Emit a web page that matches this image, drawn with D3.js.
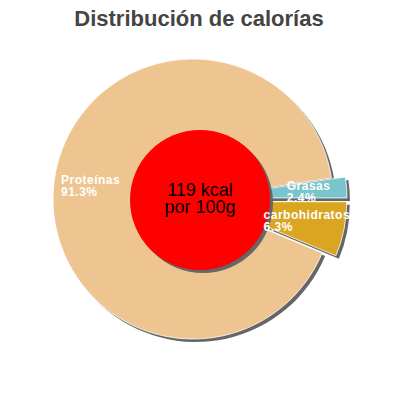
<!DOCTYPE html>
<html>
<head>
<meta charset="utf-8">
<script src="https://cdn.jsdelivr.net/npm/d3@7"></script>
<style>
  body { margin: 0; background: #fff; }
  svg { display: block; font-family: "Liberation Sans", Arial, sans-serif; }
</style>
</head>
<body>
<svg id="chart" width="400" height="400"></svg>
<script>
// data, in the order the slices run clockwise from the right side
var categories = ["Grasas", "carbohidratos", "Proteínas"];
var percents = [2.4, 6.3, 91.3];
var percentLabels = ["2.4%", "6.3%", "91.3%"];
var centerLines = ["119 kcal", "por 100g"];
var title = "Distribución de calorías";

// styles
var colors = ["#7ac5cd", "#daa520", "#eec591"];
var explode = [14, 14, 0];
var labelRadius = [80, 58, 133];
var labelDy = [-2, 6, 1];

var svg = d3.select("#chart");
var cx = 193, cy = 199, r = 140;

svg.append("text")
    .attr("x", 199).attr("y", 26)
    .attr("text-anchor", "middle")
    .style("font-size", "22px").style("font-weight", "bold")
    .style("fill", "#444")
    .text(title);

// start so that the first slice ends exactly at 3 o'clock
var total = d3.sum(percents);
var start = Math.PI / 2 - 2 * Math.PI * percents[0] / total;
var pie = d3.pie().sort(null).startAngle(start).endAngle(start + 2 * Math.PI);
var arcs = pie(percents);
var arc = d3.arc().innerRadius(0).outerRadius(r);

function shift(d, i) {
    var a = (d.startAngle + d.endAngle) / 2;
    return [Math.sin(a) * explode[i], -Math.cos(a) * explode[i]];
}

var g = svg.append("g").attr("transform", "translate(" + cx + "," + cy + ")");

// shadows first
g.selectAll("path.shadow").data(arcs).enter().append("path")
    .attr("class", "shadow")
    .attr("d", arc)
    .attr("transform", function(d, i) {
        var s = shift(d, i);
        return "translate(" + (s[0] + 3) + "," + (s[1] + 3) + ")";
    })
    .style("fill", "#666");

g.selectAll("path.slice").data(arcs).enter().append("path")
    .attr("class", "slice")
    .attr("d", arc)
    .attr("transform", function(d, i) {
        var s = shift(d, i);
        return "translate(" + s[0] + "," + s[1] + ")";
    })
    .style("fill", function(d, i) { return colors[i]; })
    .style("stroke", "#fff").style("stroke-width", 0.8);

// centre disc
svg.append("circle").attr("cx", 203).attr("cy", 203).attr("r", 70).style("fill", "#666");
svg.append("circle").attr("cx", 200).attr("cy", 200).attr("r", 70).style("fill", "#ff0000");
svg.selectAll("text.center").data(centerLines).enter().append("text")
    .attr("class", "center")
    .attr("x", 200)
    .attr("y", function(d, i) { return 196 + i * 17; })
    .attr("text-anchor", "middle")
    .style("font-size", "18px").style("fill", "#000")
    .text(function(d) { return d; });

// labels on top of everything
var lg = svg.append("g").attr("transform", "translate(" + cx + "," + cy + ")");
var labels = lg.selectAll("text.lab").data(arcs).enter().append("text")
    .attr("class", "lab")
    .attr("transform", function(d, i) {
        var s = shift(d, i);
        var a = (d.startAngle + d.endAngle) / 2;
        var x = s[0] + Math.sin(a) * labelRadius[i];
        var y = s[1] - Math.cos(a) * labelRadius[i] + labelDy[i];
        return "translate(" + x + "," + y + ")";
    })
    .style("fill", "#fff").style("font-size", "12px").style("font-weight", "bold")
    .style("letter-spacing", "0.5px");
labels.append("tspan").attr("x", 0).attr("y", 0)
    .text(function(d, i) { return categories[i]; });
labels.append("tspan").attr("x", 0).attr("y", 12)
    .text(function(d, i) { return percentLabels[i]; });
</script>
</body>
</html>
